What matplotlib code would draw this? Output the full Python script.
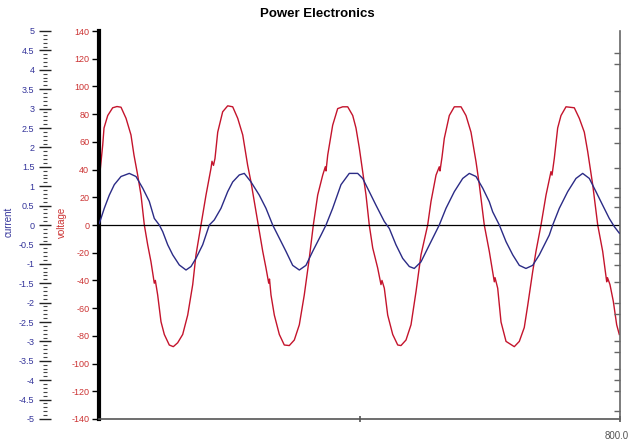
import matplotlib
matplotlib.use("Agg")
import matplotlib.pyplot as plt
import matplotlib.transforms as mtrans
from matplotlib.ticker import MultipleLocator, FuncFormatter

plt.rcParams['font.family'] = ['Liberation Sans', 'DejaVu Sans']
plt.rcParams['axes.unicode_minus'] = False

# voltage trace (sample, volts)
volt_t = [0, 5.7, 7.7, 13.4, 21.0, 27.6, 33.8, 41.5, 49.1, 53.7, 59.4, 64.5, 69.6, 74.8, 79.8,
          84.9, 86.5, 90.1, 95.2, 100.3, 107.9, 114.1, 120.8, 128.5, 136.2, 143.9, 148.9, 156.6,
          164.3, 172.0, 173.5, 175.8, 178.1, 182.3, 189.9, 197.6, 205.3, 213.0, 220.7, 228.3,
          233.4, 241.1, 244.6, 251.4, 256.4, 260.6, 261.8, 264.1, 269.2, 276.9, 284.5, 292.2,
          299.9, 307.6, 315.2, 322.9, 329.1, 335.8, 343.5, 347.5, 348.6, 351.2, 358.8, 366.5,
          374.2, 381.9, 389.6, 394.6, 399.7, 404.9, 410.0, 415.0, 420.3, 427.9, 433.0, 434.5,
          438.1, 443.3, 451.0, 458.7, 463.7, 471.4, 479.1, 486.8, 494.4, 504.7, 509.8, 517.5,
          522.5, 523.6, 526.7, 530.2, 537.9, 545.6, 555.9, 563.5, 571.2, 578.9, 584.0, 591.6,
          599.3, 601.9, 607.0, 608.1, 612.2, 617.3, 625.0, 637.7, 645.4, 653.0, 658.3, 665.9,
          671.0, 678.7, 686.4, 694.0, 695.6, 699.1, 704.3, 709.4, 717.1, 729.8, 737.5, 745.2,
          750.4, 758.1, 765.8, 773.4, 779.6, 780.8, 784.6, 789.7, 794.9, 798.9]
volt_v = [31, 57.7, 70, 79, 84.6, 85.5, 85, 77, 65, 50.5, 36, 21.6, 0, -14.4, -26.5,
          -42, -40, -50.5, -69.8, -79, -86.6, -87.8, -85, -79, -65, -43, -21.6, 0,
          21.6, 41, 46, 43, 48, 67, 81.7, 86, 85.3, 77, 65, 43,
          31, 9.6, 0, -19, -31, -42, -39, -50.5, -65, -79, -86.6, -87,
          -83, -72, -50.5, -24, 0, 21.6, 36, 42, 39, 50.5, 72, 84,
          85.3, 85.3, 79, 70, 55.6, 38.5, 21.6, 0, -16.6, -31, -43, -40,
          -45.6, -65, -79, -86.6, -87, -83, -72, -48, -21.6, 0, 17, 36,
          42, 39, 49, 62.5, 79, 85.3, 85.3, 79, 67, 45.7, 29, 0,
          -19, -26.5, -41, -38, -45.6, -70, -84, -87.8, -84, -74, -58, -33.7,
          -19, 0, 21.6, 38.5, 36, 48, 70, 79, 85.3, 84.6, 77, 67,
          53, 29, 0, -19, -41, -38, -43, -55, -72, -79]

# current trace (sample, amps)
curr_t = [0.5, 8.1, 15.8, 23.5, 33.8, 46.5, 56.8, 67.1, 77.2, 84.9, 92.6, 97.8, 105.5, 113.2,
          123.3, 133.6, 141.3, 148.9, 159.2, 169.4, 177.0, 187.3, 197.6, 205.3, 215.4, 223.1,
          233.4, 246.1, 256.4, 266.7, 276.9, 287.1, 297.4, 307.6, 317.8, 328.1, 340.9, 348.6,
          358.8, 371.6, 384.3, 397.2, 404.9, 415.0, 425.3, 438.1, 445.8, 456.0, 466.3, 476.5,
          484.1, 494.4, 504.7, 514.8, 522.5, 532.8, 545.6, 558.5, 568.6, 578.9, 589.2, 599.3,
          604.5, 614.7, 625.0, 635.3, 645.4, 655.6, 665.9, 676.1, 691.4, 696.7, 706.8, 719.7,
          732.4, 742.7, 752.9, 763.1, 773.4, 783.5, 791.2, 798.9]
curr_a = [0.04, 0.43, 0.77, 1.04, 1.25, 1.33, 1.25, 0.95, 0.61, 0.17, 0, -0.17, -0.51, -0.77,
          -1.03, -1.16, -1.07, -0.86, -0.51, 0, 0.13, 0.43, 0.86, 1.11, 1.29, 1.33,
          1.11, 0.77, 0.43, 0, -0.34, -0.68, -1.04, -1.16, -1.04, -0.68, -0.26, 0,
          0.43, 1.04, 1.33, 1.33, 1.2, 0.86, 0.51, 0.09, -0.09, -0.51, -0.86, -1.07,
          -1.12, -0.95, -0.6, -0.26, 0, 0.43, 0.86, 1.2, 1.33, 1.25, 0.95, 0.6,
          0.34, 0, -0.43, -0.77, -1.04, -1.12, -1.04, -0.77, -0.26, 0, 0.43, 0.86,
          1.2, 1.33, 1.2, 0.86, 0.51, 0.17, -0.04, -0.21]

volt_ticks = list(range(-140, 141, 20))
curr_ticks = [x / 2 for x in range(-10, 11)]
right_ticks = [124, 116, 97, 84, 70, 59, 41, 27, 20, 13, -14, -20, -29, -41, -56, -64,
               -84, -92, -104, -112, -120, -134]

RED = '#c4142c'
BLUE = '#2b2b86'

fig = plt.figure(figsize=(6.3, 4.43), dpi=100)
ax = fig.add_axes([99 / 630, 24 / 443, 521 / 630, 388 / 443])
ax.set_xlim(0, 800)
ax.set_ylim(-140, 140)
ax.plot(volt_t, volt_v, color=RED, lw=1.0)
ax.axhline(0, color='black', lw=0.9)

ax.spines['top'].set_visible(False)
ax.spines['right'].set_visible(False)
ax.spines['left'].set_linewidth(3)
ax.spines['left'].set_color('black')
ax.spines['bottom'].set_linewidth(1.2)
ax.spines['bottom'].set_color('#555555')

ax.set_yticks(volt_ticks)
ax.tick_params(axis='y', direction='out', length=5, width=1, color='black',
               labelcolor='#cc3333', labelsize=6.5, pad=2)
ax.set_xticks([400, 800])
ax.set_xticklabels(['', '800.0'])
ax.tick_params(axis='x', direction='inout', length=5, width=1.2, color='#555555',
               labelcolor='#555555', labelsize=7, pad=6)
# keep the end label inside the figure
shift = mtrans.ScaledTranslation(9 / 100, 0, fig.dpi_scale_trans)
lab = ax.get_xticklabels()[1]
lab.set_horizontalalignment('right')
lab.set_transform(lab.get_transform() + shift)

# right side ticks
axr = ax.twinx()
axr.set_ylim(-140, 140)
axr.set_yticks(right_ticks)
axr.set_yticklabels([])
axr.tick_params(axis='y', direction='in', length=4, width=1, color='#666666')
for s in ['top', 'left', 'bottom']:
    axr.spines[s].set_visible(False)
axr.spines['right'].set_color('#666666')
axr.spines['right'].set_linewidth(1.2)

# current axis
ax2 = ax.twinx()
ax2.set_ylim(-5, 5)
ax2.plot(curr_t, curr_a, color=BLUE, lw=1.0)
ax2.yaxis.tick_left()
ax2.yaxis.set_label_position('left')
for s in ['top', 'right', 'bottom', 'left']:
    ax2.spines[s].set_visible(False)
ax2.spines['left'].set_position(('outward', 39))
ax2.set_yticks(curr_ticks)
ax2.yaxis.set_minor_locator(MultipleLocator(0.1))
ax2.yaxis.set_major_formatter(FuncFormatter(lambda v, p: '%g' % v))
ax2.tick_params(axis='y', which='major', direction='inout', length=9, width=1,
                color='#222222', labelcolor='#33339a', labelsize=6.5, pad=3)
ax2.tick_params(axis='y', which='minor', direction='inout', length=2.5, width=0.8,
                color='#444444')

fig.text(62 / 630, 1 - 222 / 443, 'voltage', rotation=90, color='#cc3333',
         fontsize=7, ha='center', va='center')
fig.text(9 / 630, 1 - 222 / 443, 'current', rotation=90, color='#33339a',
         fontsize=7, ha='center', va='center')
fig.text(0.503, 1 - 14 / 443, 'Power Electronics', fontsize=9.5, fontweight='bold',
         ha='center', va='center')

fig.savefig('out.png', dpi=100)
